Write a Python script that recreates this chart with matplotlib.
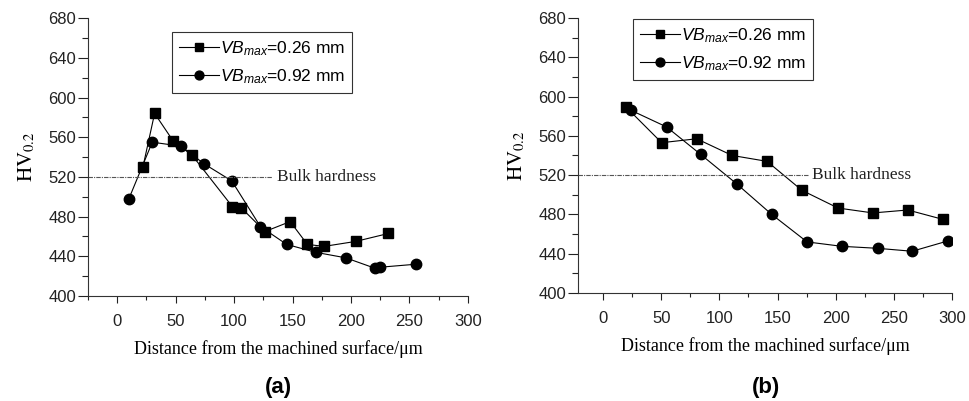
import matplotlib
matplotlib.use("Agg")
import matplotlib.pyplot as plt
from matplotlib.ticker import MultipleLocator

plt.rcParams['font.family'] = ['Liberation Sans', 'DejaVu Sans']
plt.rcParams['mathtext.fontset'] = 'custom'
plt.rcParams['mathtext.it'] = 'Liberation Sans:italic'
plt.rcParams['mathtext.rm'] = 'Liberation Sans'

# panel (a)
a_sq_x = [22, 32, 48, 64, 98.6, 106, 126.5, 148, 162.7, 177, 204, 232]
a_sq_y = [530, 584, 556, 542, 490, 489, 465, 475, 452, 450, 455, 463]
a_ci_x = [10, 30, 54.4, 74.6, 98, 122.5, 145, 170, 195.5, 220.5, 224.8, 255.3]
a_ci_y = [498, 555, 551, 533, 516, 470, 452, 444, 438.5, 428, 429, 432]

# panel (b)
b_sq_x = [20, 50.4, 80.5, 111, 141, 171, 202, 232, 262, 292]
b_sq_y = [589, 553, 557, 540, 534, 504.5, 486.5, 481.5, 484.5, 475]
b_ci_x = [24, 54.7, 84, 115, 145, 175.4, 205.5, 236, 265.7, 296.4]
b_ci_y = [586, 569, 541, 511, 480, 452, 447.5, 445.5, 442.5, 453]

bulk = 520
labels = ['$VB_{max}$=0.26 mm', '$VB_{max}$=0.92 mm']

fig = plt.figure(figsize=(9.69, 4.01), dpi=100)
ax1 = fig.add_axes([0.0908, 0.2618, 0.392, 0.693])
ax2 = fig.add_axes([0.5965, 0.2693, 0.386, 0.686])


def draw(ax, sx, sy, cx, cy, xmin, bulk_end, leg_anchor):
    ax.plot(sx, sy, color='black', lw=0.8, marker='s', ms=6.8, label=labels[0])
    ax.plot(cx, cy, color='black', lw=0.8, marker='o', ms=7.5, label=labels[1])
    ax.plot([xmin, bulk_end], [bulk, bulk], color='#555555', lw=0.8, ls=(0, (4, 1, 1, 1)))
    ax.text(bulk_end + 4, bulk, 'Bulk hardness', family='Liberation Serif', fontsize=12.5,
            va='center', ha='left', color='#222222')
    ax.set_xlim(xmin, 300)
    ax.set_ylim(400, 680)
    ax.xaxis.set_major_locator(MultipleLocator(50))
    ax.xaxis.set_minor_locator(MultipleLocator(25))
    ax.yaxis.set_major_locator(MultipleLocator(40))
    ax.yaxis.set_minor_locator(MultipleLocator(20))
    ax.spines['top'].set_visible(False)
    ax.spines['right'].set_visible(False)
    ax.spines['left'].set_color('#333333')
    ax.spines['bottom'].set_color('#333333')
    ax.tick_params(which='both', direction='out', width=0.8, colors='#222222', labelsize=12)
    ax.tick_params(axis='x', which='major', length=5, pad=8)
    ax.tick_params(axis='x', which='minor', length=3)
    ax.tick_params(axis='y', which='major', length=7, pad=1.5)
    ax.tick_params(axis='y', which='minor', length=4)
    ax.set_xlabel('Distance from the machined surface/\u03bcm', family='Liberation Serif', fontsize=13,
                  labelpad=8)
    ax.set_ylabel(r'$\mathrm{HV}_{0.2}$', fontsize=15, math_fontfamily='stix', labelpad=8)
    leg = ax.legend(loc='upper left', bbox_to_anchor=leg_anchor, fontsize=12.5, frameon=True,
                    fancybox=False, edgecolor='black', handlelength=2.3, handletextpad=0.05,
                    borderpad=0.4, labelspacing=0.55, borderaxespad=0, markerscale=0.85)
    leg.get_frame().set_linewidth(0.8)


draw(ax1, a_sq_x, a_sq_y, a_ci_x, a_ci_y, -25, 132.5, (0.221, 0.95))
draw(ax2, b_sq_x, b_sq_y, b_ci_x, b_ci_y, -21.5, 176, (0.147, 0.996))

fig.text(278 / 969, 1 - 387 / 401, '(a)', ha='center', va='center', fontsize=16, fontweight='bold')
fig.text(766 / 969, 1 - 387 / 401, '(b)', ha='center', va='center', fontsize=16, fontweight='bold')

fig.savefig('out.png', dpi=100)
